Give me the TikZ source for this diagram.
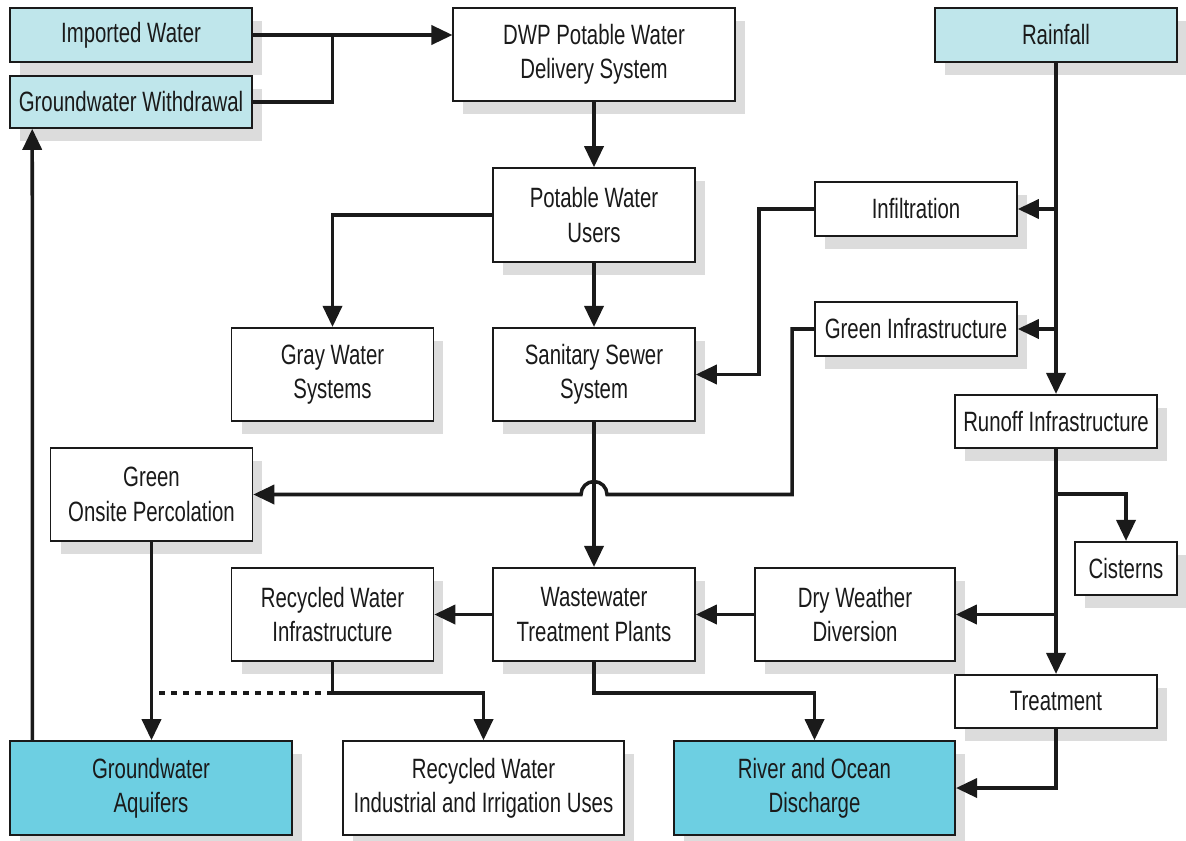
\documentclass[tikz,border=0pt]{standalone}
\usepackage{fontspec}
\setmainfont{Liberation Sans}[FakeStretch=0.73]
\usetikzlibrary{arrows.meta,shadows,calc}

\definecolor{paleblue}{HTML}{BFE6EB}
\definecolor{deepblue}{HTML}{6DCFE2}
\definecolor{shadowgray}{HTML}{DCDCDC}
\definecolor{inkblack}{HTML}{1A1A1A}

\tikzset{
	box/.style={draw=inkblack, line width=0.9pt, fill=white, align=center, inner sep=0pt,
		text=inkblack, font=\fontsize{15.9}{19.5}\selectfont,
		drop shadow={shadow xshift=0.2cm, shadow yshift=-0.26cm, fill=shadowgray, opacity=1}},
	pair/.style={minimum width=4.04cm, minimum height=1.87cm},
	single/.style={minimum width=4.04cm, minimum height=1.07cm},
	source/.style={minimum width=4.84cm, minimum height=1.07cm, fill=paleblue},
	sink/.style={minimum width=5.63cm, minimum height=1.88cm},
	flow/.style={draw=inkblack, line width=2pt, -{Triangle[length=0.42cm,width=0.38cm]}},
	link/.style={draw=inkblack, line width=2pt},
	dotlink/.style={draw=inkblack, line width=2.2pt, dash pattern=on 0.12cm off 0.12cm}
}

\begin{document}
\begin{tikzpicture}[x=0.02cm, y=-0.02cm]
		\useasboundingbox (0,0) rectangle (1186,841);
		% supply side
		\node[box, source] (imp) at (131,35) {Imported Water};
		\node[box, source, minimum height=1.04cm] (gww) at (131,102) {Groundwater Withdrawal};
		\node[box, sink, minimum height=1.86cm] (dwp) at (594,54.5) {DWP Potable Water\\Delivery System};
		\node[box, source] (rain) at (1056,35) {Rainfall};
		\node[box, pair, minimum height=1.88cm] (users) at (594,215) {Potable Water\\Users};
		\node[box, single] (infil) at (916,209) {Infiltration};
		\node[box, single] (green) at (916,329) {Green Infrastructure};
		\node[box, pair] (gray) at (332.5,374.5) {Gray Water\\Systems};
		\node[box, pair] (sewer) at (594,374.5) {Sanitary Sewer\\System};
		\node[box, single] (runoff) at (1056,421.5) {Runoff Infrastructure};
		\node[box, pair] (perc) at (151.5,494.5) {Green\\Onsite Percolation};
		\node[box, single, minimum width=2.04cm] (cist) at (1126,568.5) {Cisterns};
		\node[box, pair] (recinf) at (332.5,614.5) {Recycled Water\\Infrastructure};
		\node[box, pair] (wwtp) at (594,614.5) {Wastewater\\Treatment Plants};
		\node[box, pair, minimum width=4cm] (dry) at (855,614.5) {Dry Weather\\Diversion};
		\node[box, single] (treat) at (1056,701.5) {Treatment};
		% end points
		\node[box, sink, fill=deepblue] (aquif) at (151,788) {Groundwater\\Aquifers};
		\node[box, sink] (recuse) at (483.5,788) {Recycled Water\\Industrial and Irrigation Uses};
		\node[box, sink, fill=deepblue] (river) at (814.5,788) {River and Ocean\\Discharge};

		% potable water
		\draw[flow] (imp.east) -- (imp.east -| dwp.west);
		\draw[link] (gww.east) -| ($(imp.east)!0.4!(imp.east -| dwp.west)$);
		\draw[flow] (dwp.south) -- (users.north);
		\draw[flow] (users.west) -| (gray.north);
		\draw[flow] (users.south) -- (sewer.north);
		\draw[flow] (sewer.south) -- (wwtp.north);
		% rainfall
		\draw[flow] (rain.south) -- (runoff.north);
		\draw[flow] (rain.south |- infil.east) -- (infil.east);
		\draw[flow] (rain.south |- green.east) -- (green.east);
		\draw[flow] (infil.west) -- ++(-55,0) |- (sewer.east);
		\draw[flow] (green.west) -- ++(-22,0) |- ($(perc.east -| sewer.south)+(13,0)$)
			arc[start angle=0, end angle=180, radius=0.26cm] -- (perc.east);
		\draw[flow] (runoff.south) -- (treat.north);
		\draw[flow] ($(runoff.south)+(0,45)$) -| (cist.north);
		\draw[flow] (runoff.south |- dry.east) -- (dry.east);
		\draw[flow] (treat.south) |- (river.east);
		% treatment and reuse
		\draw[flow] (dry.west) -- (wwtp.east);
		\draw[flow] (wwtp.west) -- (recinf.east);
		\draw[flow] (wwtp.south) -- ++(0,31) -| (river.north);
		\draw[flow] (recinf.south) -- ++(0,31) -| (recuse.north);
		\draw[dotlink] ($(recinf.south)+(0,31)$) -- ($(perc.south |- recinf.south)+(7,31)$);
		\draw[flow] (perc.south) -- (perc.south |- aquif.north);
		\draw[flow] ([xshift=0.46cm]aquif.north west) -- ([xshift=0.46cm]gww.south west);
	\end{tikzpicture}
\end{document}
